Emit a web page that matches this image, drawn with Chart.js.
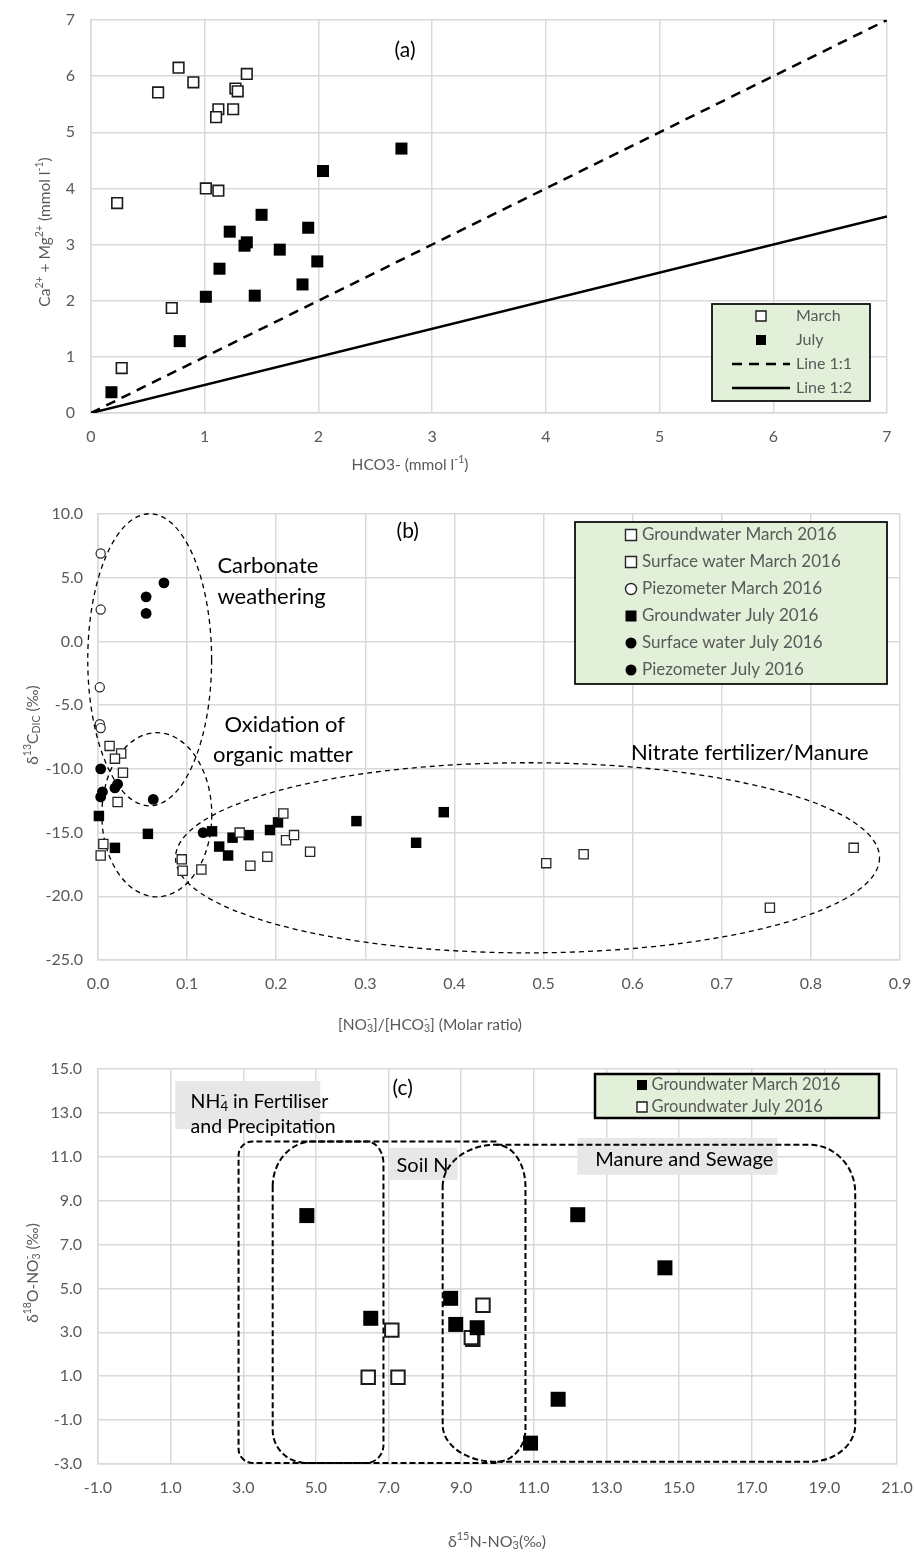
<!DOCTYPE html>
<html>
<head>
<meta charset="utf-8">
<script src="https://cdn.jsdelivr.net/npm/chart.js@4.4.1/dist/chart.umd.min.js"></script>
<style>
  html, body { margin: 0; padding: 0; background: #fff; }
  #page { position: relative; width: 914px; height: 1555px; }
  .panel { position: absolute; left: 0; width: 914px; }
</style>
</head>
<body>
<div id="page">
  <div class="panel" style="top:0"><canvas id="chartA" width="914" height="485"></canvas></div>
  <div class="panel" style="top:485px"><canvas id="chartB" width="914" height="550"></canvas></div>
  <div class="panel" style="top:1035px"><canvas id="chartC" width="914" height="520"></canvas></div>
</div>
<script>
// --- (a) Ca + Mg vs HCO3 ---
const aTicks = [0, 1, 2, 3, 4, 5, 6, 7];
const marchHCO3 = [0.77, 0.90, 0.59, 1.37, 1.27, 1.29, 1.12, 1.10, 1.25, 1.01, 1.12, 0.23, 0.71, 0.27];
const marchCaMg = [6.15, 5.89, 5.71, 6.04, 5.78, 5.73, 5.41, 5.27, 5.41, 4.00, 3.96, 3.74, 1.87, 0.80];
const julyHCO3 = [2.73, 2.04, 1.50, 1.91, 1.22, 1.37, 1.35, 1.66, 1.99, 1.13, 1.86, 1.01, 1.44, 0.78, 0.18];
const julyCaMg = [4.71, 4.31, 3.53, 3.30, 3.23, 3.04, 2.98, 2.91, 2.70, 2.57, 2.29, 2.07, 2.09, 1.28, 0.37];
const lineX = [0, 7];
const line11 = [0, 7];
const line12 = [0, 3.5];

// --- (b) d13C DIC vs NO3/HCO3 ---
const bTicksX = [0, 0.1, 0.2, 0.3, 0.4, 0.5, 0.6, 0.7, 0.8, 0.9];
const bTicksY = [-25, -20, -15, -10, -5, 0, 5, 10];
const gwMarchRatio = [0.006, 0.003, 0.094, 0.095, 0.116, 0.159, 0.171, 0.190, 0.208, 0.211, 0.220, 0.238, 0.503, 0.545, 0.754, 0.848];
const gwMarchD13C = [-15.9, -16.8, -17.1, -18.0, -17.9, -15.0, -17.6, -16.9, -13.5, -15.6, -15.2, -16.5, -17.4, -16.7, -20.9, -16.2];
const swMarchRatio = [0.013, 0.026, 0.019, 0.028, 0.022];
const swMarchD13C = [-8.2, -8.8, -9.2, -10.3, -12.6];
const pzMarchRatio = [0.003, 0.003, 0.002, 0.002, 0.003];
const pzMarchD13C = [6.9, 2.5, -3.6, -6.5, -6.8];
const gwJulyRatio = [0.001, 0.056, 0.019, 0.128, 0.136, 0.146, 0.151, 0.169, 0.193, 0.202, 0.290, 0.357, 0.388];
const gwJulyD13C = [-13.7, -15.1, -16.2, -14.9, -16.1, -16.8, -15.4, -15.2, -14.8, -14.2, -14.1, -15.8, -13.4];
const swJulyRatio = [0.003, 0.003, 0.005, 0.019, 0.022, 0.062, 0.118];
const swJulyD13C = [-10.0, -12.2, -11.8, -11.5, -11.2, -12.4, -15.0];
const pzJulyRatio = [0.074, 0.054, 0.054];
const pzJulyD13C = [4.6, 3.5, 2.2];

// --- (c) d18O vs d15N of nitrate ---
const cTicksX = [-1, 1, 3, 5, 7, 9, 11, 13, 15, 17, 19, 21];
const cTicksY = [-3, -1, 1, 3, 5, 7, 9, 11, 13, 15];
const gwMarchN15 = [4.75, 6.51, 8.71, 8.85, 9.44, 12.21, 14.61, 11.67, 10.91];
const gwMarchO18 = [8.32, 3.64, 4.55, 3.36, 3.21, 8.36, 5.94, -0.05, -2.05];
const gwJulyN15 = [7.09, 6.44, 7.26, 9.60, 9.32, 9.28];
const gwJulyO18 = [3.10, 0.95, 0.95, 4.23, 2.68, 2.76];

const FONT = 'Lato, "DejaVu Sans", sans-serif';
const GREY = '#595959';
const GRID = '#d9d9d9';
const LEGEND_BG = '#e2efd9';
const LABEL_BG = '#e7e7e7';

const pts = (xs, ys) => xs.map((v, i) => ({ x: v, y: ys[i] }));

// text with sub/superscripts: parts are strings or [text, 'sup'|'sub', stackedSup]
function drawRich(ctx, parts, x, y, o) {
    const size = o.size;
    const small = size * 0.68;
    ctx.save();
    ctx.translate(x, y);
    if (o.rotate) ctx.rotate(o.rotate);
    ctx.fillStyle = o.color;
    ctx.textBaseline = 'middle';
    ctx.textAlign = 'left';
    const segs = [];
    let w = 0;
    parts.forEach(p => {
        const [t, kind, sup] = typeof p === 'string' ? [p, '', ''] : p;
        const fs = kind ? small : size;
        ctx.font = `${fs}px ${FONT}`;
        const sw = Math.max(ctx.measureText(t).width, sup ? ctx.measureText(sup).width : 0);
        segs.push({ t, kind, sup, fs, x: w });
        w += sw;
    });
    const x0 = o.align === 'left' ? 0 : -w / 2;
    segs.forEach(s => {
        ctx.font = `${s.fs}px ${FONT}`;
        const dy = s.kind === 'sup' ? -size * 0.32 : s.kind === 'sub' ? size * 0.24 : 0;
        ctx.fillText(s.t, x0 + s.x, dy);
        if (s.sup) ctx.fillText(s.sup, x0 + s.x, -size * 0.32);
    });
    ctx.restore();
}

function drawMarker(ctx, style, x, y, size, fill, stroke, bw) {
    ctx.save();
    ctx.beginPath();
    if (style === 'circle') ctx.arc(x, y, size / 2, 0, Math.PI * 2);
    else ctx.rect(x - size / 2, y - size / 2, size, size);
    ctx.fillStyle = fill;
    ctx.fill();
    if (bw) { ctx.lineWidth = bw; ctx.strokeStyle = stroke; ctx.stroke(); }
    ctx.restore();
}

// rounded box with elliptical corners, optionally open on one side
function shapePath(ctx, x0, y0, x1, y1, r, open) {
    const H = Math.PI / 2;
    const q = (c, cx, cy, a0, a1, ccw) => ctx.ellipse(cx, cy, c[0], c[1], 0, a0, a1, ccw);
    if (open === 'right') {
        ctx.moveTo(x1, y0);
        ctx.lineTo(x0 + r.tl[0], y0);
        q(r.tl, x0 + r.tl[0], y0 + r.tl[1], 3 * H, 2 * H, true);
        ctx.lineTo(x0, y1 - r.bl[1]);
        q(r.bl, x0 + r.bl[0], y1 - r.bl[1], 2 * H, H, true);
        ctx.lineTo(x1, y1);
    } else if (open === 'left') {
        ctx.moveTo(x0, y0);
        ctx.lineTo(x1 - r.tr[0], y0);
        q(r.tr, x1 - r.tr[0], y0 + r.tr[1], 3 * H, 4 * H, false);
        ctx.lineTo(x1, y1 - r.br[1]);
        q(r.br, x1 - r.br[0], y1 - r.br[1], 0, H, false);
        ctx.lineTo(x0, y1);
    } else {
        ctx.moveTo(x0, y0 + r.tl[1]);
        q(r.tl, x0 + r.tl[0], y0 + r.tl[1], 2 * H, 3 * H, false);
        ctx.lineTo(x1 - r.tr[0], y0);
        q(r.tr, x1 - r.tr[0], y0 + r.tr[1], 3 * H, 4 * H, false);
        ctx.lineTo(x1, y1 - r.br[1]);
        q(r.br, x1 - r.br[0], y1 - r.br[1], 0, H, false);
        ctx.lineTo(x0 + r.bl[0], y1);
        q(r.bl, x0 + r.bl[0], y1 - r.bl[1], H, 2 * H, false);
        ctx.closePath();
    }
}

// annotations, legend box and axis titles for one panel
function decor(cfg) {
    return {
        id: 'decor',
        beforeDatasetsDraw(chart) {
            const { ctx } = chart;
            const px = v => chart.scales.x.getPixelForValue(v);
            const py = v => chart.scales.y.getPixelForValue(v);
            ctx.save();
            (cfg.boxes || []).forEach(b => {
                ctx.fillStyle = LABEL_BG;
                ctx.fillRect(px(b.x0), py(b.y0), px(b.x1) - px(b.x0), py(b.y1) - py(b.y0));
            });
            ctx.strokeStyle = '#000';
            (cfg.ellipses || []).forEach(e => {
                const cx = px(e.cx), cy = py(e.cy);
                ctx.beginPath();
                ctx.lineWidth = 1.3;
                ctx.setLineDash([5, 4]);
                ctx.ellipse(cx, cy, Math.abs(px(e.cx + e.rx) - cx), Math.abs(py(e.cy + e.ry) - cy), 0, 0, Math.PI * 2);
                ctx.stroke();
            });
            (cfg.shapes || []).forEach(s => {
                ctx.beginPath();
                ctx.lineWidth = 2;
                ctx.setLineDash([6, 3]);
                shapePath(ctx, px(s.x0), py(s.y0), px(s.x1), py(s.y1), s.r, s.open);
                ctx.stroke();
            });
            ctx.setLineDash([]);
            (cfg.texts || []).forEach(t => drawRich(ctx, t.parts, px(t.x), py(t.y), { size: t.size, color: '#000', align: 'left' }));
            ctx.restore();
        },
        afterDatasetsDraw(chart) {
            const L = cfg.legend;
            if (!L) return;
            const { ctx } = chart;
            const [bx0, by0, bx1, by1] = L.box;
            ctx.save();
            ctx.fillStyle = LEGEND_BG;
            ctx.fillRect(bx0, by0, bx1 - bx0, by1 - by0);
            ctx.lineWidth = L.bw;
            ctx.strokeStyle = '#000';
            ctx.strokeRect(bx0, by0, bx1 - bx0, by1 - by0);
            chart.data.datasets.forEach((ds, i) => {
                const y = L.y0 + i * L.dy;
                if (ds.type === 'line') {
                    ctx.beginPath();
                    ctx.setLineDash(ds.borderDash || []);
                    ctx.lineWidth = ds.borderWidth;
                    ctx.strokeStyle = ds.borderColor;
                    ctx.moveTo(L.lineX0, y);
                    ctx.lineTo(L.lineX1, y);
                    ctx.stroke();
                    ctx.setLineDash([]);
                } else {
                    drawMarker(ctx, ds.pointStyle, L.markX, y, L.mark, ds.backgroundColor, ds.borderColor, ds.borderWidth ? 1.4 : 0);
                }
                drawRich(ctx, [ds.label], L.textX, y, { size: L.size, color: GREY, align: 'left' });
            });
            ctx.restore();
        },
        afterDraw(chart) {
            (cfg.titles || []).forEach(t => drawRich(chart.ctx, t.parts, t.x, t.y, { size: t.size, color: GREY, rotate: t.rotate }));
        }
    };
}

function axis(min, max, ticks, fmt, pad, fit) {
    return {
        type: 'linear', min, max,
        afterBuildTicks: s => { s.ticks = ticks.map(v => ({ value: v })); },
        afterFit: s => {
            if (fit.w) s.width = fit.w;
            if (fit.h) s.height = fit.h;
            s.paddingLeft = s.paddingRight = s.paddingTop = s.paddingBottom = 0;
        },
        ticks: { color: GREY, font: { family: FONT, size: 16 }, padding: pad, callback: fmt },
        grid: { color: GRID, lineWidth: 1.5, drawTicks: false },
        border: { color: GRID, width: 1.5 }
    };
}

const baseOptions = (padding, x, y) => ({
    responsive: false,
    animation: false,
    events: [],
    layout: { padding },
    plugins: { legend: { display: false }, tooltip: { enabled: false } },
    scales: { x, y }
});

const one = v => Number(v).toFixed(1);

// (a)
new Chart(document.getElementById('chartA'), {
    type: 'scatter',
    data: {
        datasets: [
            { label: 'March', data: pts(marchHCO3, marchCaMg), pointStyle: 'rect', pointRadius: 7.5, backgroundColor: '#fff', borderColor: '#1a1a1a', borderWidth: 1.6, clip: false },
            { label: 'July', data: pts(julyHCO3, julyCaMg), pointStyle: 'rect', pointRadius: 8.5, backgroundColor: '#000', borderWidth: 0, clip: false },
            { type: 'line', label: 'Line 1:1', data: pts(lineX, line11), borderColor: '#000', borderWidth: 2.5, borderDash: [10, 7], pointRadius: 0, showLine: true },
            { type: 'line', label: 'Line 1:2', data: pts(lineX, line12), borderColor: '#000', borderWidth: 2.5, pointRadius: 0, showLine: true }
        ]
    },
    options: baseOptions({ top: 20, right: 27, left: 0, bottom: 0 },
        axis(0, 7, aTicks, v => String(v), 14, { h: 72 }),
        axis(0, 7, aTicks, v => String(v), 16, { w: 91 })),
    plugins: [decor({
        texts: [{ x: 2.67, y: 6.47, parts: ['(a)'], size: 21 }],
        legend: { box: [712, 304, 870, 401], bw: 1.7, markX: 761, mark: 10, lineX0: 732, lineX1: 790, textX: 796, y0: 316, dy: 24, size: 16 },
        titles: [
            { parts: ['Ca', ['2+', 'sup'], ' + Mg', ['2+', 'sup'], ' (mmol l', ['-1', 'sup'], ')'], x: 45, y: 232, size: 15.5, rotate: -Math.PI / 2 },
            { parts: ['HCO3- (mmol l', ['-1', 'sup'], ')'], x: 410, y: 465, size: 15.5 }
        ]
    })]
});

// (b)
new Chart(document.getElementById('chartB'), {
    type: 'scatter',
    data: {
        datasets: [
            { label: 'Groundwater March 2016', data: pts(gwMarchRatio, gwMarchD13C), pointStyle: 'rect', pointRadius: 6.5, backgroundColor: '#fff', borderColor: '#262626', borderWidth: 1.3, clip: false },
            { label: 'Surface water March 2016', data: pts(swMarchRatio, swMarchD13C), pointStyle: 'rect', pointRadius: 6.5, backgroundColor: '#fff', borderColor: '#262626', borderWidth: 1.3, clip: false },
            { label: 'Piezometer March 2016', data: pts(pzMarchRatio, pzMarchD13C), pointStyle: 'circle', pointRadius: 4.6, backgroundColor: '#fff', borderColor: '#262626', borderWidth: 1.2, clip: false },
            { label: 'Groundwater July 2016', data: pts(gwJulyRatio, gwJulyD13C), pointStyle: 'rect', pointRadius: 7.4, backgroundColor: '#000', borderWidth: 0, clip: false },
            { label: 'Surface water July 2016', data: pts(swJulyRatio, swJulyD13C), pointStyle: 'circle', pointRadius: 5.4, backgroundColor: '#000', borderWidth: 0, clip: false },
            { label: 'Piezometer July 2016', data: pts(pzJulyRatio, pzJulyD13C), pointStyle: 'circle', pointRadius: 5.4, backgroundColor: '#000', borderWidth: 0, clip: false }
        ]
    },
    options: baseOptions({ top: 29, right: 14, left: 0, bottom: 0 },
        axis(0, 0.9, bTicksX, one, 14, { h: 75 }),
        axis(-25, 10, bTicksY, one, 15, { w: 98 })),
    plugins: [decor({
        ellipses: [
            { cx: 0.058, cy: -1.44, rx: 0.0695, ry: 11.46 },
            { cx: 0.066, cy: -13.6, rx: 0.0617, ry: 6.44 },
            { cx: 0.482, cy: -16.98, rx: 0.395, ry: 7.46 }
        ],
        texts: [
            { x: 0.335, y: 8.61, parts: ['(b)'], size: 21 },
            { x: 0.134, y: 5.94, parts: ['Carbonate'], size: 22 },
            { x: 0.134, y: 3.51, parts: ['weathering'], size: 22 },
            { x: 0.142, y: -6.54, parts: ['Oxidation of'], size: 22 },
            { x: 0.129, y: -8.89, parts: ['organic matter'], size: 22 },
            { x: 0.598, y: -8.74, parts: ['Nitrate fertilizer/Manure'], size: 22 }
        ],
        legend: { box: [575, 37, 887, 199], bw: 1.7, markX: 631, mark: 11, textX: 642, y0: 50, dy: 27, size: 17 },
        titles: [
            { parts: ['δ', ['13', 'sup'], 'C', ['DIC', 'sub'], ' (‰)'], x: 33, y: 240, size: 15.5, rotate: -Math.PI / 2 },
            { parts: ['[NO', ['3', 'sub', '-'], ']/[HCO', ['3', 'sub', '-'], '] (Molar ratio)'], x: 430, y: 540, size: 15.5 }
        ]
    })]
});

// (c)
new Chart(document.getElementById('chartC'), {
    type: 'scatter',
    data: {
        datasets: [
            { label: 'Groundwater March 2016', data: pts(gwMarchN15, gwMarchO18), pointStyle: 'rect', pointRadius: 10.6, backgroundColor: '#000', borderWidth: 0, clip: false },
            { label: 'Groundwater July 2016', data: pts(gwJulyN15, gwJulyO18), pointStyle: 'rect', pointRadius: 9.5, backgroundColor: '#fff', borderColor: '#1a1a1a', borderWidth: 2, clip: false }
        ]
    },
    options: baseOptions({ top: 34, right: 17, left: 0, bottom: 0 },
        axis(-1, 21, cTicksX, one, 14, { h: 91 }),
        axis(-3, 15, cTicksY, one, 16, { w: 98 })),
    plugins: [decor({
        boxes: [
            { x0: 1.13, x1: 5.12, y0: 14.45, y1: 12.26 },
            { x0: 7.03, x1: 8.90, y0: 11.41, y1: 9.95 },
            { x0: 12.20, x1: 17.71, y0: 11.86, y1: 10.18 }
        ],
        shapes: [
            { x0: 2.87, x1: 9.97, y0: 11.70, y1: -2.95, r: { tl: [14, 14], bl: [14, 14] }, open: 'right' },
            { x0: 3.81, x1: 6.86, y0: 11.70, y1: -2.95, r: { tl: [40, 45], tr: [17, 22], br: [17, 18], bl: [33, 33] } },
            { x0: 8.49, x1: 10.77, y0: 11.55, y1: -2.90, r: { tl: [53, 42], tr: [29, 42], br: [29, 33], bl: [53, 37] } },
            { x0: 9.97, x1: 19.85, y0: 11.55, y1: -2.90, r: { tr: [46, 48], br: [46, 37] }, open: 'left' }
        ],
        texts: [
            { x: 7.11, y: 14.14, parts: ['(c)'], size: 21 },
            { x: 1.55, y: 13.50, parts: ['NH', ['4', 'sub', '-'], ' in Fertiliser'], size: 19.5 },
            { x: 1.55, y: 12.36, parts: ['and Precipitation'], size: 19.5 },
            { x: 7.22, y: 10.59, parts: ['Soil N'], size: 20 },
            { x: 12.69, y: 10.86, parts: ['Manure and Sewage'], size: 20 }
        ],
        legend: { box: [595, 39, 879, 83], bw: 2.5, markX: 642, mark: 10, textX: 651.5, y0: 50, dy: 22, size: 16.5 },
        titles: [
            { parts: ['δ', ['18', 'sup'], 'O-NO', ['3', 'sub', '-'], ' (‰)'], x: 33, y: 238, size: 15.5, rotate: -Math.PI / 2 },
            { parts: ['δ', ['15', 'sup'], 'N-NO', ['3', 'sub', '-'], '(‰)'], x: 497, y: 507, size: 16 }
        ]
    })]
});
</script>
</body>
</html>
